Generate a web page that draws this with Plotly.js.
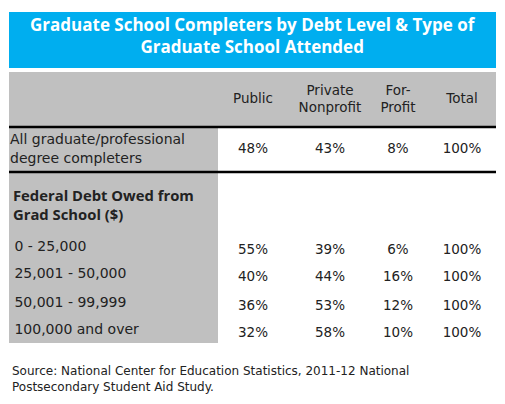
<!DOCTYPE html>
<html>
<head>
<meta charset="utf-8">
<script src="https://cdn.plot.ly/plotly-3.0.1.min.js"></script>
<style>
  html, body { margin: 0; padding: 0; background: #fff; }
  #placeholder { width: 505px; height: 404px; }
</style>
</head>
<body>
<div id="placeholder"></div>
<script>
'use strict';

////////////----- DATA -----////////////

var titleText = 'Graduate School Completers by Debt Level & Type of<br>Graduate School Attended';
var columns = ['Public', 'Private<br>Nonprofit', 'For-<br>Profit', 'Total'];
var sectionLabel = 'Federal Debt Owed from<br>Grad School ($)';
var rowLabels = ['All graduate/professional<br>degree completers', '\u00a00 - 25,000', '\u00a025,001 - 50,000', '\u00a050,001 - 99,999', '\u00a0100,000 and over'];
var publicPct = [48, 55, 40, 36, 32];
var privatePct = [43, 39, 44, 53, 58];
var forProfitPct = [8, 6, 16, 12, 10];
var totalPct = [100, 100, 100, 100, 100];
var sourceText = 'Source: National Center for Education Statistics, 2011-12 National<br>Postsecondary Student Aid Study.';

////////////----- LAYOUT -----////////////

var W = 505, H = 404;
var left = 9, right = 496, labelRight = 218;
var colX = [253, 330, 398, 462];
var rowY = [150, 251, 278, 307, 334];
var labelShift = [0, -4, -4, -4, -4];
var headY = 100;
var font = '"DejaVu Sans", "Open Sans", sans-serif';
var titleFont = '"Open Sans", Lato, sans-serif';
var ink = '#222';

var seriesList = [publicPct, privatePct, forProfitPct, totalPct];

var data = [];

// column headers
data.push({
	x: colX,
	y: colX.map(function() { return headY; }),
	text: columns,
	mode: 'text',
	textposition: 'middle center',
	textfont: { family: font, size: 13.5, color: ink },
	hoverinfo: 'skip',
	cliponaxis: false
});

// value columns
seriesList.forEach(function(vals, c) {
	data.push({
		x: vals.map(function() { return colX[c]; }),
		y: rowY,
		text: vals.map(function(v) { return v + '%'; }),
		mode: 'text',
		textposition: 'middle center',
		textfont: { family: font, size: 13.5, color: ink },
		hoverinfo: 'skip',
		cliponaxis: false
	});
});

// row labels
data.push({
	x: rowLabels.map(function() { return 10; }),
	y: rowY.map(function(y, i) { return y + labelShift[i]; }),
	text: rowLabels,
	mode: 'text',
	textposition: 'middle right',
	textfont: { family: font, size: 14, color: ink },
	hoverinfo: 'skip',
	cliponaxis: false
});

var shapes = [
	{ type: 'rect', x0: left, x1: right, y0: 12, y1: 68, fillcolor: '#00AEEF', line: { width: 0 }, layer: 'below' },
	{ type: 'rect', x0: left, x1: right, y0: 72, y1: 126, fillcolor: '#C0C0C0', line: { width: 0 }, layer: 'below' },
	{ type: 'rect', x0: left, x1: labelRight, y0: 127, y1: 343, fillcolor: '#C0C0C0', line: { width: 0 }, layer: 'below' },
	{ type: 'line', x0: left, x1: right, y0: 127, y1: 127, line: { color: '#000', width: 2.5 } },
	{ type: 'line', x0: left, x1: right, y0: 172, y1: 172, line: { color: '#000', width: 2.5 } }
];

var annotations = [
	{ x: 253, y: 35, xref: 'x', yref: 'y', text: titleText, showarrow: false,
	  font: { family: titleFont, size: 17, color: '#fff', weight: 'bold' }, align: 'center' },
	{ x: 11, y: 204, xref: 'x', yref: 'y', text: '<b>' + sectionLabel + '</b>', showarrow: false,
	  xanchor: 'left', align: 'left', font: { family: titleFont, size: 14.8, color: ink } },
	{ x: 10, y: 379, xref: 'x', yref: 'y', text: sourceText, showarrow: false,
	  xanchor: 'left', align: 'left', font: { family: font, size: 12, color: ink } }
];

var layout = {
	width: W,
	height: H,
	margin: { l: 0, r: 0, t: 0, b: 0, pad: 0 },
	paper_bgcolor: '#fff',
	plot_bgcolor: '#fff',
	showlegend: false,
	xaxis: { range: [0, W], visible: false, fixedrange: true },
	yaxis: { range: [H, 0], visible: false, fixedrange: true },
	shapes: shapes,
	annotations: annotations
};

Plotly.newPlot('placeholder', data, layout, { staticPlot: true });
</script>
</body>
</html>
